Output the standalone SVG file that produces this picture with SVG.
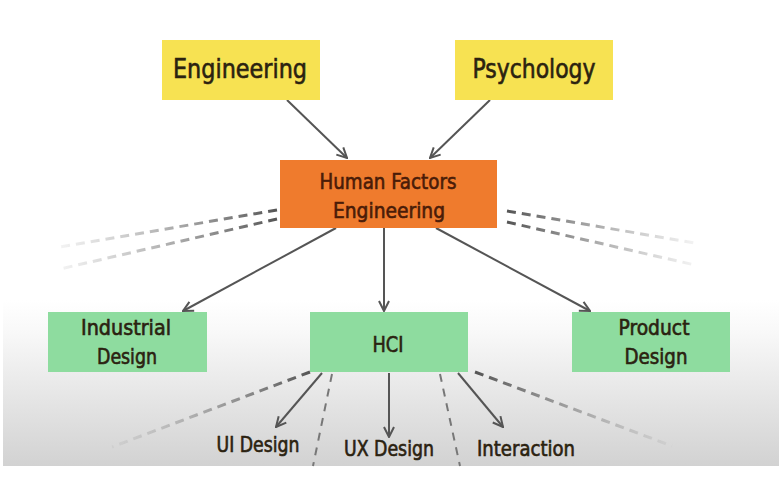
<svg xmlns="http://www.w3.org/2000/svg" width="784" height="479" viewBox="0 0 784 479">
<defs>
<linearGradient id="bg" x1="0" y1="0" x2="0" y2="1">
<stop offset="0" stop-color="#ffffff"/>
<stop offset="0.2" stop-color="#f8f8f8"/>
<stop offset="1" stop-color="#d2d2d2"/>
</linearGradient>
<linearGradient id="fl" x1="1" y1="0" x2="0" y2="0">
<stop offset="0" stop-color="#555" stop-opacity="1"/>
<stop offset="1" stop-color="#888" stop-opacity="0.1"/>
</linearGradient>
<linearGradient id="fr" x1="0" y1="0" x2="1" y2="0">
<stop offset="0" stop-color="#555" stop-opacity="1"/>
<stop offset="1" stop-color="#888" stop-opacity="0.1"/>
</linearGradient>
<marker id="ah" viewBox="0 0 12 12" refX="11" refY="6" markerWidth="12" markerHeight="12" markerUnits="userSpaceOnUse" orient="auto">
<path d="M1,1 L11,6 L1,11" fill="none" stroke="#555" stroke-width="2"/>
</marker>
<style>
.t{font-family:"DejaVu Sans Condensed","Liberation Sans Narrow","Liberation Sans",sans-serif;fill:#2b2210;stroke:#2b2210;stroke-width:0.6;text-anchor:middle}
.h{fill:#4a1c08;stroke:#4a1c08}
.y{fill:#f7e252}
.g{fill:#8edc9f}
.o{fill:#ef7b2d}
.a{stroke:#555;stroke-width:2;fill:none;marker-end:url(#ah)}
.d{stroke-width:3;fill:none;stroke-dasharray:9 6}
.v{stroke:#777;stroke-width:2;fill:none;stroke-dasharray:8 7}
</style>
</defs>
<rect x="3" y="300" width="776" height="166" fill="url(#bg)"/>
<g id="connectors">
<line class="a" x1="287" y1="100" x2="347" y2="158"/>
<line class="a" x1="490" y1="100" x2="430" y2="158"/>
<line class="a" x1="336" y1="228" x2="183" y2="311"/>
<line class="a" x1="384" y1="228" x2="384" y2="311"/>
<line class="a" x1="436" y1="228" x2="590" y2="311"/>
<line class="a" x1="322" y1="373" x2="276" y2="427"/>
<line class="a" x1="389" y1="373" x2="389" y2="437"/>
<line class="a" x1="458" y1="373" x2="503" y2="427"/>
<path class="d" d="M277,210 L60,247" stroke="url(#fl)"/>
<path class="d" d="M277,219 L60,269" stroke="url(#fl)"/>
<path class="d" d="M507,211 L695,243" stroke="url(#fr)"/>
<path class="d" d="M507,222 L695,265" stroke="url(#fr)"/>
<path class="d" d="M310,372 L112,447" stroke="url(#fl)"/>
<path class="v" d="M332,374 L313,466"/>
<path class="v" d="M440,374 L460,466"/>
<path class="d" d="M475,372 L672,446" stroke="url(#fr)"/>
</g>
<g id="engineering">
<rect class="y" x="162" y="40" width="158" height="60"/>
<text class="t" x="240" y="78" font-size="27" textLength="134" lengthAdjust="spacingAndGlyphs">Engineering</text>
</g>
<g id="psychology">
<rect class="y" x="455" y="40" width="158" height="60"/>
<text class="t" x="534" y="78" font-size="27" textLength="123" lengthAdjust="spacingAndGlyphs">Psychology</text>
</g>
<g id="hfe">
<rect class="o" x="280" y="160" width="217" height="68"/>
<text class="t h" x="388" y="189" font-size="22" textLength="137" lengthAdjust="spacingAndGlyphs">Human Factors</text>
<text class="t h" x="389" y="218" font-size="22" textLength="112" lengthAdjust="spacingAndGlyphs">Engineering</text>
</g>
<g id="industrial">
<rect class="g" x="48" y="312" width="159" height="60"/>
<text class="t" x="126" y="335" font-size="21" textLength="90" lengthAdjust="spacingAndGlyphs">Industrial</text>
<text class="t" x="127" y="364" font-size="21" textLength="60" lengthAdjust="spacingAndGlyphs">Design</text>
</g>
<g id="hci">
<rect class="g" x="310" y="312" width="158" height="60"/>
<text class="t" x="388" y="352" font-size="22" textLength="31" lengthAdjust="spacingAndGlyphs">HCI</text>
</g>
<g id="product">
<rect class="g" x="572" y="312" width="158" height="60"/>
<text class="t" x="654" y="335" font-size="21" textLength="71" lengthAdjust="spacingAndGlyphs">Product</text>
<text class="t" x="656" y="364" font-size="21" textLength="63" lengthAdjust="spacingAndGlyphs">Design</text>
</g>
<g id="ui">
<text class="t" x="258" y="452" font-size="21" textLength="83" lengthAdjust="spacingAndGlyphs">UI Design</text>
</g>
<g id="ux">
<text class="t" x="389" y="456" font-size="21" textLength="90" lengthAdjust="spacingAndGlyphs">UX Design</text>
</g>
<g id="interaction">
<text class="t" x="526" y="456" font-size="21" textLength="98" lengthAdjust="spacingAndGlyphs">Interaction</text>
</g>
</svg>
